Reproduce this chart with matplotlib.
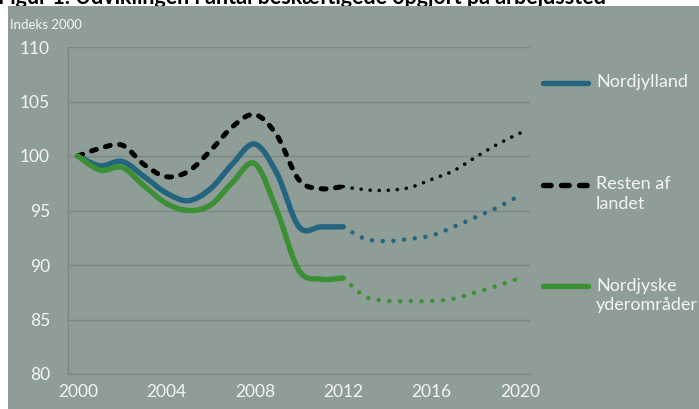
import matplotlib
matplotlib.use("Agg")
import matplotlib.pyplot as plt
from matplotlib.path import Path
from matplotlib.patches import PathPatch, Rectangle
from matplotlib.lines import Line2D

plt.rcParams['font.family'] = ['Lato', 'DejaVu Sans']

# data (index, 2000 = 100)
years = list(range(2000, 2013))
proj_years = list(range(2012, 2021))

nordjylland = [100, 99.1, 99.5, 98.1, 96.6, 95.9, 97.0, 99.3, 101.1, 98.4, 93.5, 93.5, 93.5]
nordjylland_proj = [93.5, 92.4, 92.2, 92.4, 92.7, 93.5, 94.4, 95.3, 96.4]

resten = [100, 100.7, 101.0, 99.2, 98.1, 98.6, 100.5, 102.7, 103.8, 101.9, 97.8, 97.0, 97.2]
resten_proj = [97.2, 96.9, 96.85, 97.1, 97.85, 98.65, 99.9, 101.1, 102.1]

yder = [100, 98.7, 98.95, 97.25, 95.65, 95.0, 95.5, 97.6, 99.3, 95.0, 89.5, 88.7, 88.8]
yder_proj = [88.8, 87.1, 86.7, 86.7, 86.7, 86.9, 87.5, 88.1, 88.8]

labels = ['Nordjylland', 'Resten af\nlandet', 'Nordjyske\nyderområder']
title = 'Figur 1. Udviklingen i antal beskæftigede opgjort på arbejdssted'

BG = '#8E9D96'
GRID = '#7D8782'
BLUE = '#23647E'
GREEN = '#3B8F35'
TXT = '#F4F4F4'


def smooth(x, y):
    # Excel-like smoothed line as cubic bezier segments
    verts = [(x[0], y[0])]
    codes = [Path.MOVETO]
    n = len(x)
    for i in range(n - 1):
        x0, y0 = (x[i - 1], y[i - 1]) if i > 0 else (x[i], y[i])
        x3, y3 = (x[i + 2], y[i + 2]) if i + 2 < n else (x[i + 1], y[i + 1])
        c1 = (x[i] + (x[i + 1] - x0) / 6, y[i] + (y[i + 1] - y0) / 6)
        c2 = (x[i + 1] - (x3 - x[i]) / 6, y[i + 1] - (y3 - y[i]) / 6)
        verts += [c1, c2, (x[i + 1], y[i + 1])]
        codes += [Path.CURVE4] * 3
    return Path(verts, codes)


fig = plt.figure(figsize=(6.99, 4.09), dpi=100)
fig.patch.set_facecolor('white')
fig.patches.append(Rectangle((8 / 699, 0), 1, 1 - 6 / 409, transform=fig.transFigure,
                             facecolor=BG, edgecolor='none', zorder=-1))
# title is cut off at the top edge, as in the reference
fig.text(-2 / 699, 1 - 4 / 409, title, fontsize=15.5, fontweight='bold', color='black',
         va='baseline', ha='left', zorder=-2)

ax = fig.add_axes([68 / 699, 35 / 409, 462 / 699, 327 / 409])
ax.set_facecolor('none')

series = [
    (nordjylland, nordjylland_proj, BLUE, 'solid', (0, (0.01, 2.4)), 3.9, 3.2),
    (resten, resten_proj, 'black', (0, (1.0, 1.9)), (0, (0.01, 2.5)), 3.6, 2.6),
    (yder, yder_proj, GREEN, 'solid', (0, (0.01, 2.4)), 3.9, 3.2),
]
for hist, proj, col, ls, pls, lw, plw in series:
    ax.add_patch(PathPatch(smooth(years, hist), fill=False, edgecolor=col, lw=lw,
                           linestyle=ls, capstyle='round', joinstyle='round', zorder=3))
    ax.add_patch(PathPatch(smooth(proj_years, proj), fill=False, edgecolor=col, lw=plw,
                           linestyle=pls, capstyle='round', joinstyle='round', zorder=3))

ax.set_xlim(1999.55, 2020.45)
ax.set_ylim(80, 110)
ax.set_xticks(range(2000, 2021, 4))
ax.set_yticks(range(80, 111, 5))
ax.grid(axis='y', color=GRID, lw=1)
ax.set_axisbelow(True)
for s in ['top', 'right']:
    ax.spines[s].set_visible(False)
for s in ['left', 'bottom']:
    ax.spines[s].set_color(GRID)
    ax.spines[s].set_linewidth(1)
ax.tick_params(length=0, colors=TXT, labelsize=12.5)
ax.tick_params(axis='y', pad=13)
ax.tick_params(axis='x', pad=7)

fig.text(10 / 699, 1 - 25 / 409, 'Indeks 2000', fontsize=9.5, color=TXT, va='center')

# legend drawn at the right side
leg_y = [83, 185, 286]
leg_style = [(BLUE, 'solid'), ('black', (0, (1.4, 1.93))), (GREEN, 'solid')]
for lab, yy, (col, ls) in zip(labels, leg_y, leg_style):
    yf = 1 - yy / 409
    fig.add_artist(Line2D([543 / 699, 588 / 699], [yf, yf], transform=fig.transFigure,
                          color=col, lw=3.9, linestyle=ls, solid_capstyle='round',
                          dash_capstyle='round'))
    fig.text(596 / 699, yf + 8.5 / 409, lab, fontsize=13, color=TXT, va='top',
             ha='left', linespacing=1.3)

fig.savefig('out.png', dpi=100)
